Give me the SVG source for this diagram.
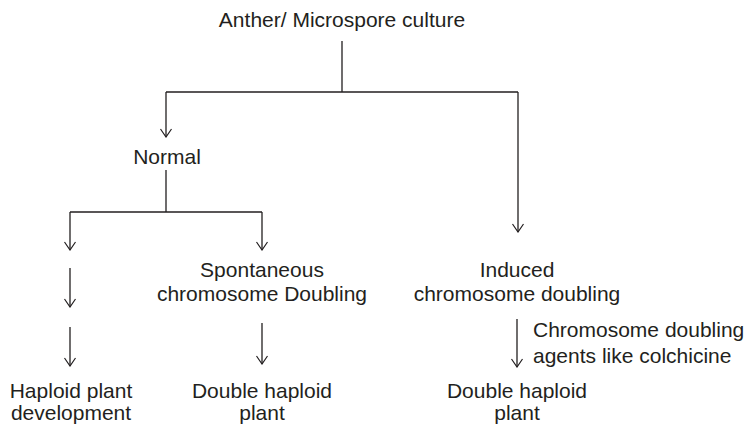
<svg xmlns="http://www.w3.org/2000/svg" width="747" height="426" viewBox="0 0 747 426">
  <defs>
    <marker id="arrow" viewBox="-1 -7 10 14" refX="8" refY="0" markerWidth="10" markerHeight="14" markerUnits="userSpaceOnUse" orient="auto">
      <path d="M0,-5.5 L8,0 L0,5.5" fill="none" stroke="#231f20" stroke-width="1.2"/>
    </marker>
    <style>
      .t { font-family: "Liberation Sans", Arial, Helvetica, sans-serif; font-size: 21px; fill: #231f20; }
      .m { text-anchor: middle; }
      .c { fill: none; stroke: #231f20; stroke-width: 1.3; }
      .a { marker-end: url(#arrow); }
    </style>
  </defs>
  <rect width="747" height="426" fill="#ffffff"/>

  <g id="connectors">
    <!-- root split -->
    <path class="c" d="M342,41 V92 M166,92 H518"/>
    <path class="c a" d="M166,92 V137"/>
    <path class="c a" d="M518,92 V232"/>
    <!-- Normal split -->
    <path class="c" d="M166,170 V212 M70,212 H262"/>
    <path class="c a" d="M70,212 V250"/>
    <path class="c a" d="M262,212 V250"/>
    <!-- haploid chain -->
    <path class="c a" d="M70,268 V307"/>
    <path class="c a" d="M70,327 V366"/>
    <!-- spontaneous to double haploid -->
    <path class="c a" d="M262,323 V364"/>
    <!-- induced to double haploid -->
    <path class="c a" d="M517,319 V367"/>
  </g>

  <g id="root">
    <text class="t m" x="342" y="27">Anther/ Microspore culture</text>
  </g>
  <g id="normal">
    <text class="t m" x="167" y="164">Normal</text>
  </g>
  <g id="spontaneous">
    <text class="t m" x="262" y="277">Spontaneous</text>
    <text class="t m" x="262" y="301">chromosome Doubling</text>
  </g>
  <g id="induced">
    <text class="t m" x="517" y="277">Induced</text>
    <text class="t m" x="517" y="301">chromosome doubling</text>
  </g>
  <g id="agent-label">
    <text class="t" x="533" y="337">Chromosome doubling</text>
    <text class="t" x="533" y="363">agents like colchicine</text>
  </g>
  <g id="haploid-plant">
    <text class="t m" x="71" y="398">Haploid plant</text>
    <text class="t m" x="71" y="420">development</text>
  </g>
  <g id="double-haploid-1">
    <text class="t m" x="262" y="398">Double haploid</text>
    <text class="t m" x="262" y="420">plant</text>
  </g>
  <g id="double-haploid-2">
    <text class="t m" x="517" y="398">Double haploid</text>
    <text class="t m" x="517" y="420">plant</text>
  </g>
</svg>
